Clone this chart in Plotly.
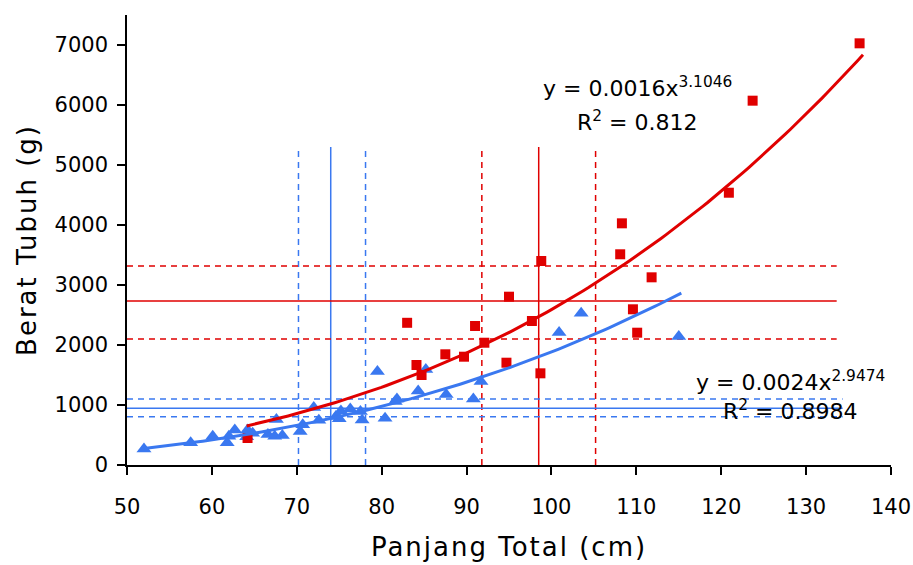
import numpy as np
import plotly.graph_objects as go

# ---------------- data ----------------
# Red series (squares)
red_x = [64.2, 83.0, 84.1, 84.7, 87.5, 89.7, 91.0, 92.1, 94.7, 95.0, 97.7,
         98.7, 98.8, 108.3, 108.1, 111.8, 109.6, 110.1, 120.9, 123.7, 136.3]
red_y = [450, 2370, 1667, 1500, 1845, 1805, 2317, 2038, 1705, 2805, 2400,
         1528, 3400, 4028, 3512, 3128, 2595, 2205, 4538, 6072, 7028]

# Blue series (triangles)
blue_x = [52.0, 57.5, 60.1, 61.8, 62.0, 62.7, 64.2, 64.1, 64.8, 66.6, 67.4,
          67.6, 68.3, 70.4, 70.7, 72.0, 72.6, 74.6, 75.0, 75.2, 76.3, 77.5,
          77.7, 79.5, 80.4, 81.6, 81.8, 84.3, 85.2, 87.6, 90.8, 91.7, 100.9,
          103.5, 115.0]
blue_y = [267, 370, 480, 370, 480, 583, 583, 470, 530, 510, 480,
          760, 490, 560, 670, 960, 745, 810, 770, 900, 935, 890,
          750, 1560, 780, 1060, 1100, 1235, 1590, 1175, 1100, 1390, 2210,
          2530, 2140]

# Power trendlines y = a * x^b (coefficients shown on the chart)
red_fit = {"a": 0.0016, "b": 3.1046, "r2": "0.812", "xmin": 64.1, "xmax": 136.7}
blue_fit = {"a": 0.0024, "b": 2.9474, "r2": "0.8984", "xmin": 52.0, "xmax": 115.3}

# Mean / +-SD reference lines
red_len_mean, red_len_lo, red_len_hi = 98.5, 91.8, 105.2
blue_len_mean, blue_len_lo, blue_len_hi = 74.0, 70.2, 78.1
red_wt_mean, red_wt_lo, red_wt_hi = 2733, 2100, 3317
blue_wt_mean, blue_wt_lo, blue_wt_hi = 945, 805, 1100
vline_top = 5300
red_hline_end = 133.6
blue_hline_end = 134.3

x_ticks = [50, 60, 70, 80, 90, 100, 110, 120, 130, 140]
y_ticks = [0, 1000, 2000, 3000, 4000, 5000, 6000, 7000]

RED = "#E00000"
BLUE = "#3A78F0"
FONT = "DejaVu Sans"

fig = go.Figure()

def vline(x, color, dash):
    fig.add_trace(go.Scatter(x=[x, x], y=[0, vline_top], mode="lines",
                             line=dict(color=color, width=1.5, dash=dash),
                             hoverinfo="skip", showlegend=False))

def hline(y, xend, color, dash):
    fig.add_trace(go.Scatter(x=[x_ticks[0], xend], y=[y, y], mode="lines",
                             line=dict(color=color, width=1.5, dash=dash),
                             hoverinfo="skip", showlegend=False))

DASH = "6px,5px"
for xv, d in [(blue_len_mean, "solid"), (blue_len_lo, DASH), (blue_len_hi, DASH)]:
    vline(xv, BLUE, d)
for xv, d in [(red_len_mean, "solid"), (red_len_lo, DASH), (red_len_hi, DASH)]:
    vline(xv, RED, d)
for yv, d in [(blue_wt_mean, "solid"), (blue_wt_lo, DASH), (blue_wt_hi, DASH)]:
    hline(yv, blue_hline_end, BLUE, d)
for yv, d in [(red_wt_mean, "solid"), (red_wt_lo, DASH), (red_wt_hi, DASH)]:
    hline(yv, red_hline_end, RED, d)

# markers
fig.add_trace(go.Scatter(x=blue_x, y=blue_y, mode="markers",
                         marker=dict(symbol="triangle-up", size=13, color=BLUE),
                         showlegend=False))
fig.add_trace(go.Scatter(x=red_x, y=red_y, mode="markers",
                         marker=dict(symbol="square", size=10, color=RED),
                         showlegend=False))

# trendlines
for fit, color in [(blue_fit, BLUE), (red_fit, RED)]:
    xs = np.linspace(fit["xmin"], fit["xmax"], 120)
    ys = fit["a"] * xs ** fit["b"]
    fig.add_trace(go.Scatter(x=xs, y=ys, mode="lines",
                             line=dict(color=color, width=3),
                             hoverinfo="skip", showlegend=False))

def eq_text(fit):
    return "y = %sx<sup>%s</sup>" % (fit["a"], fit["b"])

ann_font = dict(family=FONT, size=22, color="black")
fig.add_annotation(x=110.1, y=6300, text=eq_text(red_fit), showarrow=False,
                   font=ann_font, xanchor="center", yanchor="middle")
fig.add_annotation(x=110.1, y=5733, text="R<sup>2</sup> = " + red_fit["r2"],
                   showarrow=False, font=ann_font, xanchor="center", yanchor="middle")
fig.add_annotation(x=128.2, y=1400, text=eq_text(blue_fit), showarrow=False,
                   font=ann_font, xanchor="center", yanchor="middle")
fig.add_annotation(x=128.2, y=917, text="R<sup>2</sup> = " + blue_fit["r2"],
                   showarrow=False, font=ann_font, xanchor="center", yanchor="middle")

axis_common = dict(showline=True, linecolor="black", linewidth=1.5,
                   ticks="outside", ticklen=8, tickwidth=1.5, tickcolor="black",
                   showgrid=False, zeroline=False, automargin=False,
                   tickfont=dict(family=FONT, size=21, color="black"))

fig.update_xaxes(range=[50, 140], tickvals=x_ticks, ticktext=[str(v) for v in x_ticks],
                 ticklabelstandoff=14,
                 title=dict(text="Panjang Total (cm)",
                            font=dict(family=FONT, size=26, color="black"), standoff=20),
                 **axis_common)
fig.update_yaxes(range=[0, 7500], tickvals=y_ticks, ticktext=[str(v) for v in y_ticks],
                 ticklabelstandoff=5,
                 title=dict(text="Berat Tubuh (g)",
                            font=dict(family=FONT, size=26, color="black"), standoff=10),
                 **axis_common)

fig.update_layout(width=913, height=565,
                  margin=dict(l=127, r=22, t=15, b=100),
                  paper_bgcolor="white", plot_bgcolor="white",
                  showlegend=False)

post = ("document.querySelectorAll('.xtitle, .ytitle').forEach(function(e){"
        "e.style.letterSpacing='2px';});")
fig.write_html("out.html", post_script=post)
